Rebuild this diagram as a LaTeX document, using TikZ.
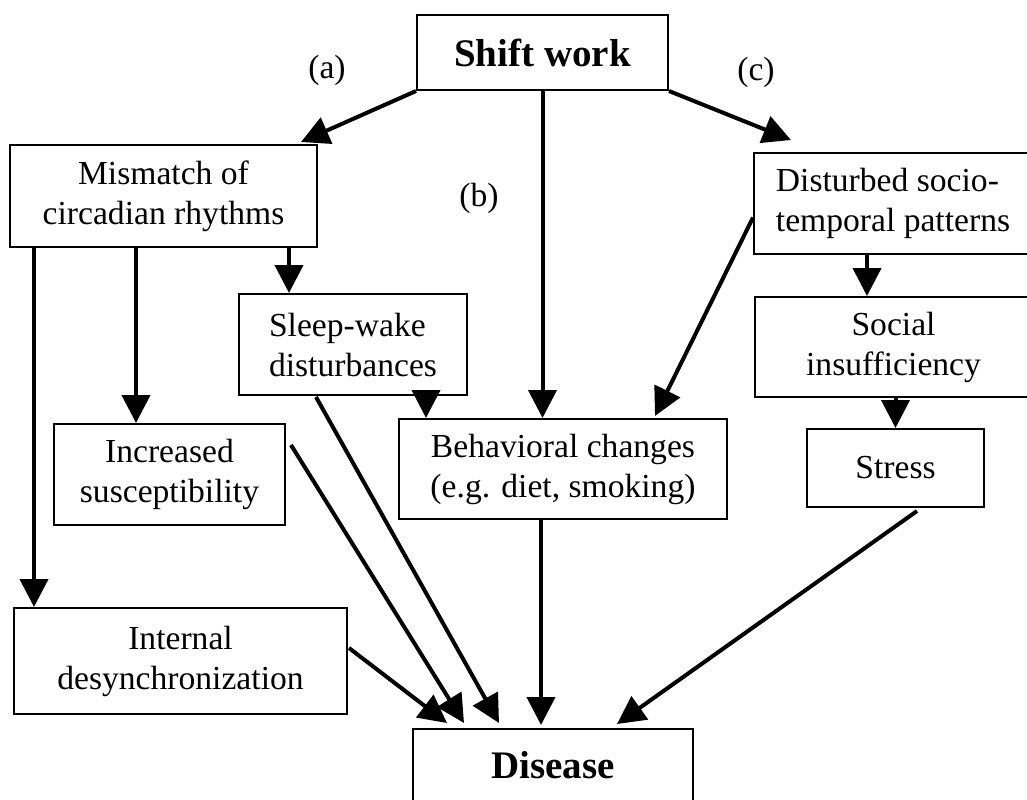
\documentclass[tikz,border=0pt]{standalone}
\usepackage{fontspec}
\setmainfont{Liberation Serif}
\usetikzlibrary{positioning,arrows.meta,calc}

\begin{document}
\begin{tikzpicture}[x=0.5pt,y=-0.5pt,
  box/.style={draw,line width=1pt,inner sep=0pt,align=center,font=\fontsize{16.8}{20}\selectfont},
  bbox/.style={box,font=\fontsize{19.5}{22}\selectfont\bfseries},
  lbl/.style={font=\fontsize{16.8}{20}\selectfont},
  arr/.style={-{Triangle[length=14pt,width=14pt]},line width=2pt}]
\useasboundingbox (0,0) rectangle (1027,799);
\clip (0,0) rectangle (1027,799);
% boxes
\node[bbox,minimum width=125.5pt,minimum height=37.5pt] (shift) at (542.5,52.5) {Shift work};
\node[box,minimum width=153.5pt,minimum height=51pt] (mismatch) at (163.5,196) {Mismatch of\\circadian rhythms};
\node[box,align=left,minimum width=114pt,minimum height=50.5pt] (sleep) at (353,344.5) {Sleep-wake\\disturbances};
\node[box,minimum width=115.5pt,minimum height=50.5pt] (incr) at (169.5,474.5) {Increased\\susceptibility};
\node[box,minimum width=166.5pt,minimum height=53pt] (internal) at (180.5,661) {Internal\\desynchronization};
\node[box,minimum width=164pt,minimum height=50pt] (behav) at (563,469) {Behavioral changes\\(e.g. diet, smoking)};
\node[box,align=left,minimum width=139pt,minimum height=50.5pt] (disturbed) at (893,203.5) {Disturbed socio-\\temporal patterns};
\node[box,minimum width=138.5pt,minimum height=50pt] (social) at (893.5,347) {Social\\insufficiency};
\node[box,minimum width=88.5pt,minimum height=39pt] (stress) at (895.5,468) {Stress};
% open at the bottom edge
\node[bbox,anchor=base,minimum width=140pt,text height=24.5pt,text depth=20pt] (disease) at (553,778) {Disease};
% path labels
\node[lbl] (la) at (327,70) {(a)};
\node[lbl] (lb) at (479,198) {(b)};
\node[lbl] (lc) at (756,72) {(c)};
% from shift work
\draw[arr] (shift.south west) -- ($(mismatch.north east)+(-17,-2)$);
\draw[arr] (shift.south) -- (shift.south |- behav.north);
\draw[arr] (shift.south east) -- ($(disturbed.north west)+(38,-12)$);
% (a) branch
\draw[arr] ($(mismatch.south west)+(25,0)$) -- ($(internal.north west)+(21,0)$);
\draw[arr] ($(mismatch.south west)+(127,0)$) -- ($(incr.north west)+(83,0)$);
\draw[arr] ($(mismatch.south west)+(280,0)$) -- ($(sleep.north west)+(51,0)$);
\draw[arr] ($(sleep.south west)+(188,0)$) -- ($(behav.north west)+(28,0)$);
% (c) branch
\draw[arr] ($(disturbed.west)+(0,14)$) -- ($(behav.north east)+(-73,-2)$);
\draw[arr] ($(disturbed.south west)+(114,0)$) -- ($(social.north west)+(113,0)$);
\draw[arr] (stress.north |- social.south) -- (stress.north);
% into disease
\draw[arr] ($(internal.east)+(1,-13)$) -- ($(disease.north west)+(35,-5)$);
\draw[arr] ($(incr.north east)+(5,22)$) -- ($(disease.north west)+(52,-5)$);
\draw[arr] ($(sleep.south west)+(78,1)$) -- ($(disease.north west)+(87,-5)$);
\draw[arr] ($(behav.south west)+(143,0)$) -- ($(disease.north west)+(129,-3)$);
\draw[arr] ($(stress.south west)+(111,3)$) -- ($(disease.north west)+(205,-4)$);
\end{tikzpicture}
\end{document}
